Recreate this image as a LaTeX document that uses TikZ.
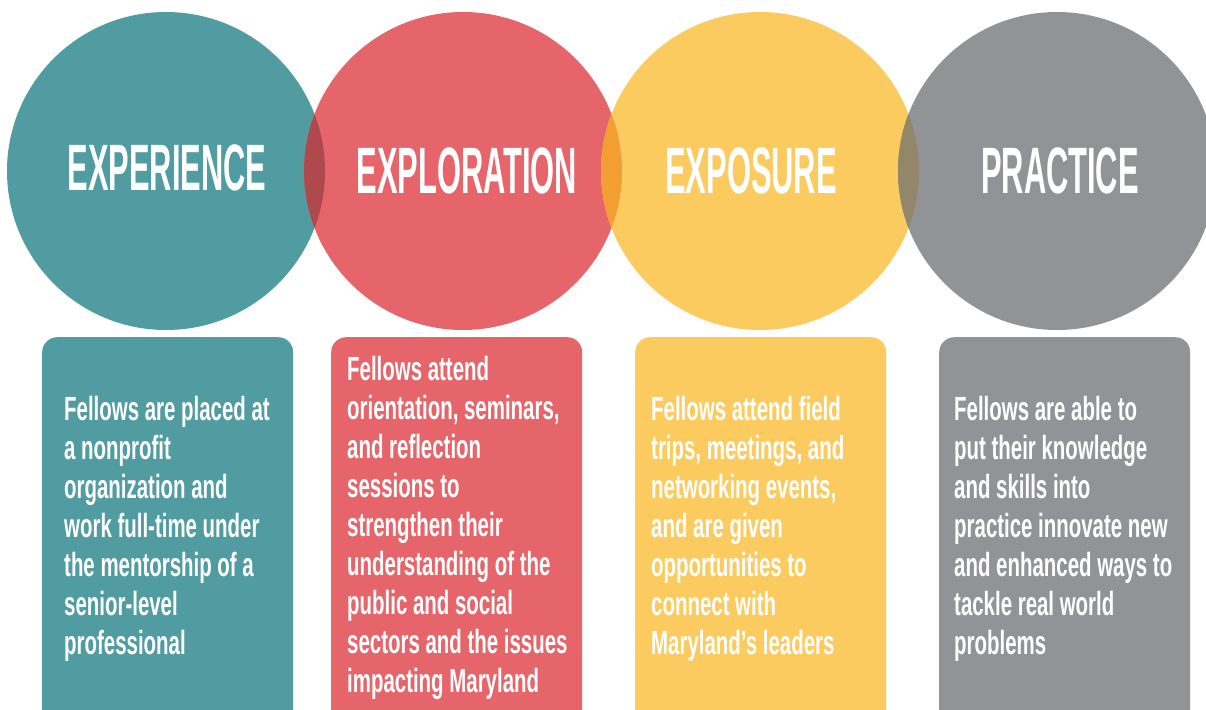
\documentclass[tikz,border=0pt]{standalone}
\usepackage{fontspec}
\usepackage{xcolor}
\usepackage{tikz}
\newfontfamily\titlefont[FakeStretch=0.47]{Liberation Sans}
\newfontfamily\bodyfont[FakeStretch=0.61]{Liberation Sans}
\definecolor{StageTeal}{RGB}{80,156,160}
\definecolor{StageRed}{RGB}{229,101,107}
\definecolor{StageYellow}{RGB}{252,203,95}
\definecolor{StageGrey}{RGB}{146,147,150}
\definecolor{LensTealRed}{RGB}{174,74,78}
\definecolor{LensRedYellow}{RGB}{242,158,50}
\definecolor{LensYellowGrey}{RGB}{147,135,106}
\tikzset{
  stagecircle/.style={circle, inner sep=0pt, minimum size=318pt},
  stagetitle/.style={white, inner sep=0pt, anchor=base,
    font=\titlefont\bfseries\fontsize{65.6}{70}\selectfont},
  stagebox/.style={rounded corners=15pt, inner sep=0pt, anchor=north west,
    minimum width=251pt, minimum height=420pt},
  stagetext/.style={white, inner sep=0pt, anchor=north west, align=left,
    font=\bodyfont\bfseries\fontsize{33.5}{39}\selectfont}
}

\begin{document}
\begin{tikzpicture}[x=1pt,y=-1pt]
  \def\R{159} \def\Cy{171}
  \useasboundingbox (0,0) rectangle (1206,709);

  % ----- CIRCLES -----
  \foreach \n/\cx/\col in {1/166/StageTeal, 2/463/StageRed,
                           3/760/StageYellow, 4/1057/StageGrey} {%
    \node[stagecircle, fill=\col] (c\n) at (\cx,\Cy) {};
  }%

  % overlaps
  \foreach \a/\b/\col in {1/2/LensTealRed, 2/3/LensRedYellow,
                          3/4/LensYellowGrey} {%
    \begin{scope}
      \clip (c\a.center) circle (\R);
      \fill[\col] (c\b.center) circle (\R);
    \end{scope}
  }%

  % ----- TITLES -----
  \node[stagetitle] (t1) at (167,190) {EXPERIENCE};
  \node[stagetitle] (t2) at (467,193) {EXPLORATION};
  \node[stagetitle] (t3) at (751,193) {EXPOSURE};
  \node[stagetitle] (t4) at (1060,193) {PRACTICE};

  % ----- BOXES -----
  \foreach \n/\bx/\col in {1/42/StageTeal, 2/331/StageRed,
                           3/635/StageYellow, 4/939/StageGrey} {%
    \node[stagebox, fill=\col] (b\n) at (\bx,337) {};
  }%

  \node[stagetext] (d1) at (64,396) {Fellows are placed at\\a nonprofit\\
    organization and\\work full-time under\\the mentorship of a\\
    senior-level\\professional};
  \node[stagetext] (d2) at (347,356) {Fellows attend\\orientation, seminars,\\
    and reflection\\sessions to\\strengthen their\\understanding of the\\
    public and social\\sectors and the issues\\impacting Maryland};
  \node[stagetext] (d3) at (651,396) {Fellows attend field\\trips, meetings, and\\
    networking events,\\and are given\\opportunities to\\connect with\\
    Maryland’s leaders};
  \node[stagetext] (d4) at (954,396) {Fellows are able to\\put their knowledge\\
    and skills into\\practice innovate new\\and enhanced ways to\\
    tackle real world\\problems};
\end{tikzpicture}
\end{document}
